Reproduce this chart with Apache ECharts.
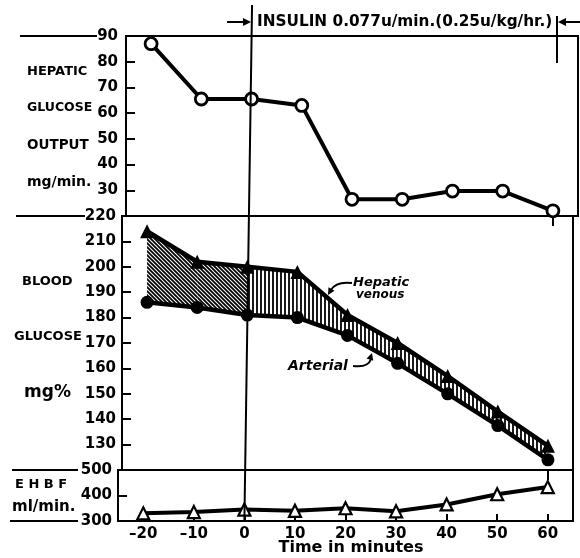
<!DOCTYPE html>
<html>
<head>
<meta charset="utf-8">
<script src="https://cdn.jsdelivr.net/npm/echarts@6/dist/echarts.min.js"></script>
<style>
  html, body { margin: 0; padding: 0; background: #fff; }
  #chart { width: 580px; height: 558px; }
</style>
</head>
<body>
<div id="chart"></div>
<script>
// time in minutes
const times = [-20, -10, 0, 10, 20, 30, 40, 50, 60];
// hepatic glucose output, mg/min
const hepaticOutput = [87, 65.5, 65.5, 63, 26.5, 26.5, 29.7, 29.7, 22];
// blood glucose, mg%
const venousGlucose = [214, 202, 200, 198, 181, 170, 157, 143, 129.5];
const arterialGlucose = [186, 184, 181, 180, 173, 162, 150, 137.5, 124];
// EHBF, ml/min
const ehbf = [330, 335, 345, 340, 350, 338, 365, 405, 433];

const xTicks = [-20, -10, 0, 10, 20, 30, 40, 50, 60];
const endTick = [60];

const FONT = '"DejaVu Sans", sans-serif';

function hatch(kind) {
  const c = document.createElement('canvas');
  c.width = 4; c.height = 4;
  const ctx = c.getContext('2d');
  ctx.fillStyle = '#fff';
  ctx.fillRect(0, 0, 4, 4);
  ctx.strokeStyle = '#000';
  ctx.lineWidth = 1.8;
  ctx.beginPath();
  if (kind === 'diag') {
    ctx.moveTo(-1, -1); ctx.lineTo(5, 5);
    ctx.moveTo(3, -1); ctx.lineTo(5, 1);
    ctx.moveTo(-1, 3); ctx.lineTo(1, 5);
  } else {
    ctx.moveTo(1, 0); ctx.lineTo(1, 4);
  }
  ctx.stroke();
  return c;
}
const diagHatch = hatch('diag');
const vertHatch = hatch('vert');

function pairs(ys) {
  return times.map((t, i) => [t, ys[i]]);
}

const chart = echarts.init(document.getElementById('chart'));

const yLabel = { color: '#000', fontFamily: FONT, fontWeight: 'bold', fontSize: 15 };
const yTick = { show: true, inside: true, length: 9, lineStyle: { color: '#000', width: 2 } };
const yLine = { show: true, onZero: false, lineStyle: { color: '#000', width: 2 } };
const border = { show: true, borderColor: '#000', borderWidth: 2, backgroundColor: 'transparent' };

function hiddenX(idx) {
  return {
    type: 'value', gridIndex: idx, min: -25, max: 65,
    axisLine: { show: false, onZero: false },
    axisLabel: { show: false },
    splitLine: { show: false },
    axisTick: { show: true, inside: false, length: 10, customValues: endTick,
      lineStyle: { color: '#000', width: 2 } }
  };
}

const option = {
  animation: false,
  grid: [
    Object.assign({ left: 126, right: 2, top: 36, height: 180 }, border),
    Object.assign({ left: 122, right: 7, top: 216, height: 254 }, border),
    Object.assign({ left: 118, right: 7, top: 470, height: 51 }, border)
  ],
  xAxis: [
    hiddenX(0),
    hiddenX(1),
    {
      type: 'value', gridIndex: 2, min: -25, max: 65,
      axisLine: { show: true, onZero: false, lineStyle: { color: '#000', width: 2 } },
      splitLine: { show: false },
      axisTick: { show: true, inside: true, length: 7, customValues: xTicks,
        lineStyle: { color: '#000', width: 2 } },
      axisLabel: {
        customValues: xTicks, margin: 6,
        color: '#000', fontFamily: FONT, fontWeight: 'bold', fontSize: 15,
        formatter: v => (v < 0 ? '\u2013' + Math.abs(v) : String(v))
      }
    }
  ],
  yAxis: [
    {
      type: 'value', gridIndex: 0, min: 20, max: 90, interval: 10,
      axisLine: yLine, axisTick: yTick, splitLine: { show: false },
      axisLabel: Object.assign({ showMinLabel: false, margin: 8 }, yLabel)
    },
    {
      type: 'value', gridIndex: 1, min: 120, max: 220, interval: 10,
      axisLine: yLine, axisTick: yTick, splitLine: { show: false },
      axisLabel: Object.assign({ showMinLabel: false, margin: 6 }, yLabel)
    },
    {
      type: 'value', gridIndex: 2, min: 300, max: 500, interval: 100,
      axisLine: yLine, axisTick: yTick, splitLine: { show: false },
      axisLabel: Object.assign({ margin: 6 }, yLabel)
    }
  ],
  series: [
    {
      // hatched band between hepatic venous and arterial
      type: 'custom', xAxisIndex: 1, yAxisIndex: 1, silent: true, z: 1,
      data: times.slice(0, -1).map((t, i) => [t, venousGlucose[i]]),
      renderItem: function (params, api) {
        const i = params.dataIndex;
        const pts = [
          api.coord([times[i], venousGlucose[i]]),
          api.coord([times[i + 1], venousGlucose[i + 1]]),
          api.coord([times[i + 1], arterialGlucose[i + 1]]),
          api.coord([times[i], arterialGlucose[i]])
        ];
        return {
          type: 'polygon',
          shape: { points: pts },
          style: { fill: { image: times[i] < 0 ? diagHatch : vertHatch, repeat: 'repeat' } }
        };
      }
    },
    {
      name: 'Hepatic glucose output', type: 'line', xAxisIndex: 0, yAxisIndex: 0, z: 3,
      data: pairs(hepaticOutput),
      symbol: 'circle', symbolSize: 12,
      itemStyle: { color: '#fff', borderColor: '#000', borderWidth: 2.8 },
      lineStyle: { color: '#000', width: 4 }
    },
    {
      name: 'Hepatic venous', type: 'line', xAxisIndex: 1, yAxisIndex: 1, z: 3,
      data: pairs(venousGlucose),
      symbol: 'triangle', symbolSize: 14,
      itemStyle: { color: '#000' },
      lineStyle: { color: '#000', width: 4.5 }
    },
    {
      name: 'Arterial', type: 'line', xAxisIndex: 1, yAxisIndex: 1, z: 3,
      data: pairs(arterialGlucose),
      symbol: 'circle', symbolSize: 13,
      itemStyle: { color: '#000' },
      lineStyle: { color: '#000', width: 4.5 }
    },
    {
      name: 'EHBF', type: 'line', xAxisIndex: 2, yAxisIndex: 2, z: 3,
      data: pairs(ehbf),
      symbol: 'triangle', symbolSize: 12,
      itemStyle: { color: '#fff', borderColor: '#000', borderWidth: 2.2 },
      lineStyle: { color: '#000', width: 4 }
    }
  ]
};
chart.setOption(option);

// ---- decorations: side labels, insulin bracket, annotations ----
function text(x, y, s, size, extra) {
  return {
    type: 'text', x: x, y: y, z: 10,
    style: Object.assign({
      text: s, fill: '#000', align: 'left', verticalAlign: 'middle',
      font: 'bold ' + size + 'px ' + FONT
    }, extra || {})
  };
}
function line(x1, y1, x2, y2, w) {
  return { type: 'line', z: 10, shape: { x1, y1, x2, y2 }, style: { stroke: '#000', lineWidth: w || 2 } };
}
function arrowHead(tip, dir, len, half) {
  const n = Math.hypot(dir[0], dir[1]);
  const ux = dir[0] / n, uy = dir[1] / n;
  const bx = tip[0] - ux * len, by = tip[1] - uy * len;
  return {
    type: 'polygon', z: 10,
    shape: { points: [tip, [bx - uy * half, by + ux * half], [bx + uy * half, by - ux * half]] },
    style: { fill: '#000' }
  };
}

const zeroTop = chart.convertToPixel({ gridIndex: 0 }, [0, 90]);
const zeroBot = chart.convertToPixel({ gridIndex: 2 }, [0, 300]);
const g = [];

// panel separators running out to the left
g.push(line(20, 36, 97, 36));
g.push(line(16, 216, 85, 216));
g.push(line(12, 470, 78, 470));
g.push(line(10, 521, 78, 521));

// x = 0 line (insulin start), slightly slanted like the scan
g.push(line(zeroTop[0] + 0.5, 5, zeroBot[0], zeroBot[1], 2));

// insulin bracket
g.push(line(227, 22, 246, 22, 2));
g.push(arrowHead([251, 22], [1, 0], 8, 4));
g.push(line(580, 22, 563, 22, 2));
g.push(arrowHead([558, 22], [-1, 0], 8, 4));
g.push(line(557, 16, 557, 63, 2));
g.push(text(257, 22, 'INSULIN 0.077u/min.(0.25u/kg/hr.)', 15.3));

// left-hand panel titles
g.push(text(27, 72, 'HEPATIC', 13));
g.push(text(27, 108, 'GLUCOSE', 12.5));
g.push(text(27, 145, 'OUTPUT', 13.5));
g.push(text(27, 182, 'mg/min.', 14));
g.push(text(22, 282, 'BLOOD', 13));
g.push(text(14, 337, 'GLUCOSE', 13));
g.push(text(24, 393, 'mg%', 17));
g.push(text(15, 485, 'E H B F', 13));
g.push(text(12, 507, 'ml/min.', 15));

// axis title
g.push(text(351, 548, 'Time in minutes', 16, { align: 'center' }));

// curve annotations
g.push(text(353, 283, 'Hepatic', 13, { font: 'italic bold 13px ' + FONT }));
g.push(text(356, 295, 'venous', 12, { font: 'italic bold 12px ' + FONT }));
g.push({
  type: 'bezierCurve', z: 10,
  shape: { x1: 352, y1: 283, x2: 331, y2: 290, cpx1: 336, cpy1: 281 },
  style: { stroke: '#000', lineWidth: 2, fill: null }
});
g.push(arrowHead([328, 295], [-0.5, 0.87], 7, 3.5));
g.push(text(288, 366, 'Arterial', 14, { font: 'italic bold 14px ' + FONT }));
g.push({
  type: 'bezierCurve', z: 10,
  shape: { x1: 353, y1: 366, x2: 371, y2: 359, cpx1: 368, cpy1: 368 },
  style: { stroke: '#000', lineWidth: 2, fill: null }
});
g.push(arrowHead([372, 353], [0.3, -0.95], 7, 3.5));

chart.setOption({ graphic: g });
</script>
</body>
</html>
